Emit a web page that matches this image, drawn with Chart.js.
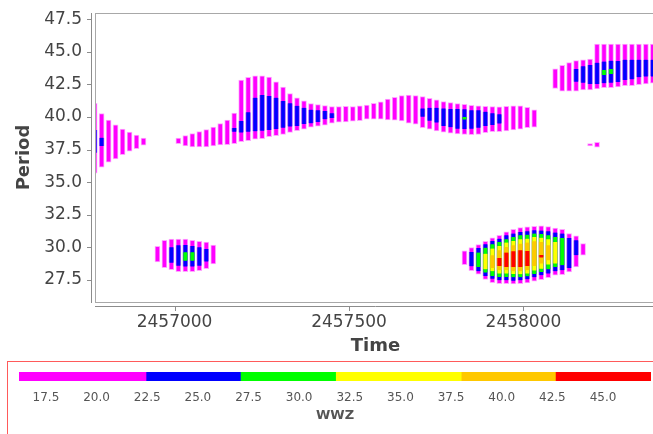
<!DOCTYPE html>
<html>
<head>
<meta charset="utf-8">
<script src="https://cdn.jsdelivr.net/npm/chart.js@4.4.1/dist/chart.umd.min.js"></script>
<style>
  html, body { margin: 0; padding: 0; background: #fff; overflow: hidden; }
  #wrap { position: relative; width: 653px; height: 434px; overflow: hidden; }
  #wwz { position: absolute; left: 0; top: 0; }
  #legendBox { position: absolute; left: 7px; top: 361px; width: 700px; height: 100px; border: 1px solid #ff5a5a; }
  #bar { position: absolute; left: 0; top: 362px; }
</style>
</head>
<body>
<div id="wrap">
  <div id="legendBox"></div>
  <canvas id="wwz" width="660" height="360"></canvas>
  <canvas id="bar" width="660" height="72"></canvas>
</div>
<script>
// WWZ bands: [time, period low, period high], one list per colour level
const magentaBands = [
  [2456771,35.68,41.05],[2456791,36.14,40.26],[2456811,36.53,39.77],[2456831,36.78,39.39],
  [2456851,37.11,39.08],[2456871,37.37,38.85],[2456891,37.57,38.62],[2456911,37.83,38.39],
  [2457011,37.95,38.39],[2457031,37.78,38.57],[2457051,37.70,38.72],[2457071,37.70,38.87],
  [2457091,37.70,39.03],[2457111,37.78,39.23],[2457131,37.85,39.49],[2457151,37.88,39.77],
  [2457171,37.95,40.29],[2457191,38.11,42.84],[2457211,38.18,43.04],[2457231,38.29,43.15],
  [2457251,38.34,43.15],[2457271,38.49,43.07],[2457291,38.57,42.69],[2457311,38.67,42.29],
  [2457331,38.82,41.79],[2457351,38.95,41.46],[2457371,39.06,41.23],[2457391,39.21,41.02],
  [2457411,39.29,40.95],[2457431,39.37,40.87],[2457451,39.52,40.79],[2457471,39.60,40.79],
  [2457491,39.62,40.82],[2457511,39.67,40.79],[2457531,39.72,40.85],[2457551,39.83,40.92],
  [2457571,39.83,41.05],[2457591,39.83,41.16],[2457611,39.77,41.38],[2457631,39.75,41.50],
  [2457651,39.70,41.64],[2457671,39.52,41.69],[2457691,39.44,41.64],[2457711,39.18,41.56],
  [2457731,39.06,41.43],[2457751,38.93,41.31],[2457771,38.83,41.18],[2457791,38.75,41.10],
  [2457811,38.70,41.02],[2457831,38.67,40.98],[2457851,38.64,40.90],[2457871,38.67,40.85],
  [2457891,38.80,40.82],[2457911,38.87,40.79],[2457931,38.87,40.77],[2457951,38.93,40.82],
  [2457971,39.00,40.85],[2457991,39.06,40.85],[2458011,39.18,40.75],[2458031,39.21,40.54],
  [2458091,42.20,43.69],[2458111,41.98,43.97],[2458131,41.98,44.17],[2458151,41.98,44.32],
  [2458171,42.07,44.38],[2458191,42.07,44.45],[2458211,42.15,45.60],[2458231,42.25,45.60],
  [2458251,42.25,45.60],[2458271,42.30,45.60],[2458291,42.40,45.60],[2458311,42.40,45.60],
  [2458331,42.48,45.60],[2458351,42.53,45.60],[2458371,42.60,45.60],
  [2458191,37.78,37.95],[2458211,37.68,38.06],
  [2456951,28.87,30.08],[2456971,28.44,30.54],[2456991,28.28,30.62],[2457011,28.13,30.62],
  [2457031,28.13,30.62],[2457051,28.13,30.54],[2457071,28.21,30.46],[2457091,28.36,30.39],
  [2457111,28.72,30.16],
  [2457831,28.67,29.72],[2457851,28.21,29.97],[2457871,27.93,30.20],[2457891,27.54,30.46],
  [2457911,27.29,30.72],[2457931,27.21,30.92],[2457951,27.21,31.18],[2457971,27.19,31.38],
  [2457991,27.21,31.51],[2458011,27.26,31.56],[2458031,27.39,31.61],[2458051,27.52,31.64],
  [2458071,27.67,31.59],[2458091,27.85,31.48],[2458111,27.90,31.38],[2458131,28.11,31.05],
  [2458151,28.49,30.87],[2458171,29.39,30.28]
];
const blueBands = [
  [2456771,37.26,39.00],[2456791,37.78,38.41],
  [2457171,38.87,39.16],[2457191,38.80,39.70],[2457211,38.87,40.36],[2457231,38.90,41.48],
  [2457251,38.95,41.69],[2457271,39.00,41.61],[2457291,39.08,41.48],[2457311,39.18,41.22],
  [2457331,39.26,41.05],[2457351,39.31,40.86],[2457371,39.46,40.71],[2457391,39.51,40.56],
  [2457411,39.62,40.52],[2457431,39.83,40.46],[2457451,39.93,40.29],
  [2457711,40.02,40.66],[2457731,39.72,40.71],[2457751,39.57,40.71],[2457771,39.31,40.66],
  [2457791,39.21,40.61],[2457811,39.10,40.61],[2457831,39.08,40.59],[2457851,39.10,40.52],
  [2457871,39.18,40.52],[2457891,39.31,40.41],[2457911,39.39,40.29],[2457931,39.49,40.21],
  [2458151,42.71,43.69],[2458171,42.63,43.89],[2458191,42.53,43.99],[2458211,42.53,44.17],
  [2458231,42.59,44.25],[2458251,42.63,44.32],[2458271,42.69,44.30],[2458291,42.84,44.40],
  [2458311,42.89,44.40],[2458331,43.05,44.40],[2458351,43.10,44.40],[2458371,43.10,44.40],
  [2456991,28.82,30.00],[2457011,28.59,30.16],[2457031,28.52,30.18],[2457051,28.52,30.10],
  [2457071,28.59,30.00],[2457091,28.90,29.87],
  [2457851,28.54,29.64],[2457871,28.16,29.95],[2457891,27.80,30.23],[2457911,27.59,30.49],
  [2457931,27.47,30.66],[2457951,27.47,30.92],[2457971,27.44,31.05],[2457991,27.47,31.18],
  [2458011,27.54,31.23],[2458031,27.70,31.30],[2458051,27.85,31.28],[2458071,27.98,31.23],
  [2458091,28.16,31.13],[2458111,28.24,31.05],[2458131,28.41,30.72],[2458151,29.39,30.54]
];
const greenBands = [
  [2457831,39.80,40.00],[2458231,43.23,43.61],[2458251,43.30,43.69],
  [2457031,28.97,29.62],[2457051,28.97,29.62],
  [2457871,28.49,29.59],[2457891,28.06,29.97],[2457911,27.80,30.23],[2457931,27.72,30.41],
  [2457951,27.72,30.61],[2457971,27.70,30.79],[2457991,27.70,30.92],[2458011,27.77,30.97],
  [2458031,27.95,31.05],[2458051,28.11,31.02],[2458071,28.31,30.92],[2458091,28.49,30.79],
  [2458111,28.62,30.72]
];
const yellowBands = [
  [2457891,28.31,29.51],[2457911,28.16,29.90],[2457931,27.98,30.10],[2457951,27.98,30.36],
  [2457971,27.95,30.49],[2457991,27.93,30.61],[2458011,27.98,30.66],[2458031,28.21,30.79],
  [2458051,28.36,30.74],[2458071,28.67,30.61],[2458091,28.75,30.41]
];
const orangeBands = [
  [2457911,28.41,29.39],[2457931,28.24,29.77],[2457951,28.24,30.03],[2457971,28.16,30.15],
  [2457991,28.16,30.28],[2458011,28.24,30.36],[2458031,28.57,30.46],[2458051,28.75,30.41],
  [2458071,29.00,30.15]
];
const redBands = [
  [2457931,28.57,29.18],[2457951,28.49,29.59],[2457971,28.49,29.69],[2457991,28.49,29.77],
  [2458011,28.57,29.72],[2458051,29.21,29.41]
];

const xTicks = [2457000, 2457500, 2458000];
const yTicks = [27.5, 30.0, 32.5, 35.0, 37.5, 40.0, 42.5, 45.0, 47.5];

// colour scale
const levelColors = ["#ff00ff", "#0000ff", "#00ff00", "#ffff00", "#ffc800", "#ff0000"];
const levelEdgeColors = ["rgba(255,0,255,0.35)", "rgba(0,0,255,0.35)", "rgba(0,255,0,0.35)",
  "rgba(255,255,0,0.35)", "rgba(255,200,0,0.35)", "rgba(255,0,0,0.35)"];
const levelEdges = [16.17, 22.44, 27.1, 31.8, 38.0, 42.65, 47.37];
const wwzTicks = [17.5, 20.0, 22.5, 25.0, 27.5, 30.0, 32.5, 35.0, 37.5, 40.0, 42.5, 45.0];

const FONT = "'DejaVu Sans', sans-serif";
const allBands = [magentaBands, blueBands, greenBands, yellowBands, orangeBands, redBands];

const framePlugin = {
  id: "frame",
  afterDraw(chart) {
    const { ctx, chartArea: a, scales } = chart;
    ctx.save();
    ctx.lineWidth = 1;
    ctx.strokeStyle = "#a8a8a8";
    ctx.strokeRect(a.left + 0.5, a.top + 0.5, a.right - a.left, a.bottom - a.top);
    ctx.strokeStyle = "#8c8c8c";
    ctx.beginPath();
    ctx.moveTo(a.left - 3.5, a.top);
    ctx.lineTo(a.left - 3.5, a.bottom + 1);
    ctx.moveTo(a.left, a.bottom + 4.5);
    ctx.lineTo(a.right, a.bottom + 4.5);
    yTicks.forEach((v) => {
      const y = Math.round(scales.y.getPixelForValue(v)) + 0.5;
      ctx.moveTo(a.left - 8, y);
      ctx.lineTo(a.left - 3.5, y);
    });
    xTicks.forEach((v) => {
      const x = Math.round(scales.x.getPixelForValue(v)) + 0.5;
      ctx.moveTo(x, a.bottom + 4.5);
      ctx.lineTo(x, a.bottom + 9);
    });
    ctx.stroke();
    ctx.restore();
  },
};

new Chart(document.getElementById("wwz"), {
  type: "bar",
  data: {
    datasets: allBands.map((bands, i) => ({
      data: bands.map((b) => ({ x: b[0], y: [b[1], b[2]] })),
      backgroundColor: levelColors[i],
      borderColor: levelEdgeColors[i],
      borderWidth: i === 0 ? 1 : { left: 1, right: 1, top: 0, bottom: 0 },
      borderSkipped: false,
      order: allBands.length - i,
    })),
  },
  options: {
    responsive: false,
    animation: false,
    devicePixelRatio: 1,
    grouped: false,
    barThickness: 5,
    maxBarThickness: 5,
    categoryPercentage: 1,
    barPercentage: 0.75,
    layout: { padding: { top: 13, right: 4, left: 0, bottom: 0 } },
    plugins: { legend: { display: false }, tooltip: { enabled: false } },
    scales: {
      x: {
        type: "linear",
        offset: false,
        min: 2456772,
        max: 2458380,
        afterBuildTicks: (s) => { s.ticks = xTicks.map((v) => ({ value: v })); },
        afterFit: (s) => { s.height = 58; s.paddingLeft = 0; s.paddingRight = 0; },
        grid: { display: false, drawTicks: false, offset: false },
        border: { display: false },
        ticks: {
          padding: 10,
          color: "#444",
          font: { family: FONT, size: 17 },
          maxRotation: 0,
          callback: (v) => String(v),
        },
        title: {
          display: true,
          text: "Time",
          color: "#444",
          font: { family: FONT, size: 18, weight: "bold" },
          padding: { top: 0, bottom: 3 },
        },
      },
      y: {
        type: "linear",
        min: 25.8,
        max: 47.98,
        afterBuildTicks: (s) => { s.ticks = yTicks.map((v) => ({ value: v })); },
        afterFit: (s) => { s.width = 95; s.paddingTop = 0; s.paddingBottom = 0; },
        grid: { display: false, drawTicks: false },
        border: { display: false },
        ticks: {
          padding: 13,
          color: "#444",
          font: { family: FONT, size: 17 },
          callback: (v) => v.toFixed(1),
        },
        title: {
          display: true,
          text: "Period",
          color: "#444",
          font: { family: FONT, size: 18, weight: "bold" },
          padding: { top: 14, bottom: 0 },
        },
      },
    },
  },
  plugins: [framePlugin],
});

// colour bar legend
new Chart(document.getElementById("bar"), {
  type: "bar",
  data: {
    labels: ["wwz"],
    datasets: levelColors.map((c, i) => ({
      data: [[levelEdges[i], levelEdges[i + 1]]],
      backgroundColor: c,
      borderWidth: 0,
    })),
  },
  options: {
    indexAxis: "y",
    responsive: false,
    animation: false,
    devicePixelRatio: 1,
    grouped: false,
    categoryPercentage: 1,
    barPercentage: 1,
    layout: { padding: { top: 10, left: 19, right: 9, bottom: 0 } },
    plugins: { legend: { display: false }, tooltip: { enabled: false } },
    scales: {
      y: { display: false },
      x: {
        type: "linear",
        min: levelEdges[0],
        max: levelEdges[levelEdges.length - 1],
        afterBuildTicks: (s) => { s.ticks = wwzTicks.map((v) => ({ value: v })); },
        afterFit: (s) => { s.height = 53; s.paddingLeft = 0; s.paddingRight = 0; },
        grid: { display: false, drawTicks: false },
        border: { display: false },
        ticks: {
          padding: 10,
          color: "#555",
          font: { family: FONT, size: 12 },
          maxRotation: 0,
          callback: (v) => v.toFixed(1),
        },
        title: {
          display: true,
          text: "WWZ",
          color: "#555",
          font: { family: FONT, size: 13, weight: "bold" },
          padding: { top: 0, bottom: 11 },
        },
      },
    },
  },
});
</script>
</body>
</html>
